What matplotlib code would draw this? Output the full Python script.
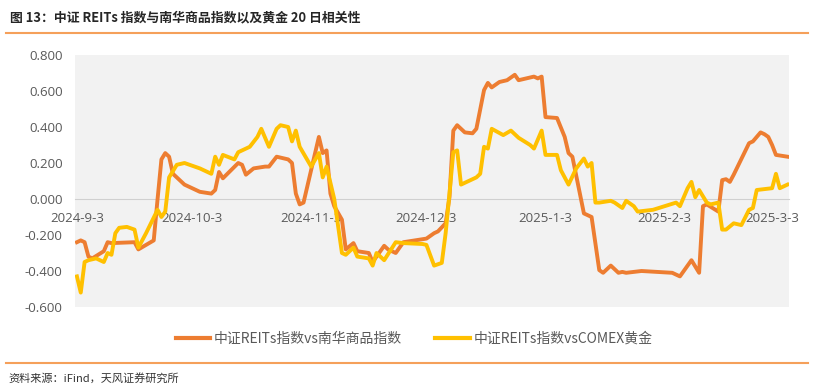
import matplotlib
matplotlib.use("Agg")
import matplotlib.pyplot as plt
import matplotlib.dates as mdates
from matplotlib.lines import Line2D
import pandas as pd

plt.rcParams['font.family'] = ['Open Sans', 'Noto Sans CJK SC', 'DejaVu Sans']
CJK = ['Noto Sans CJK SC', 'DejaVu Sans']

# ---------------- data ----------------
nanhua_dates = [
    "2024-09-03", "2024-09-04", "2024-09-05", "2024-09-06", "2024-09-07", "2024-09-10",
    "2024-09-11", "2024-09-12", "2024-09-18", "2024-09-19", "2024-09-21", "2024-09-23",
    "2024-09-24", "2024-09-25", "2024-09-26", "2024-09-27", "2024-09-28", "2024-10-01",
    "2024-10-05", "2024-10-08", "2024-10-09", "2024-10-10", "2024-10-11", "2024-10-15",
    "2024-10-16", "2024-10-17", "2024-10-19", "2024-10-22", "2024-10-23", "2024-10-25",
    "2024-10-28", "2024-10-29", "2024-10-30", "2024-10-31", "2024-11-01", "2024-11-05",
    "2024-11-06", "2024-11-07", "2024-11-08", "2024-11-09", "2024-11-11", "2024-11-12",
    "2024-11-14", "2024-11-15", "2024-11-18", "2024-11-19", "2024-11-22", "2024-11-23",
    "2024-11-25", "2024-11-27", "2024-11-30", "2024-12-03", "2024-12-05", "2024-12-06",
    "2024-12-08", "2024-12-09", "2024-12-10", "2024-12-11", "2024-12-13", "2024-12-15",
    "2024-12-16", "2024-12-18", "2024-12-19", "2024-12-20", "2024-12-22", "2024-12-24",
    "2024-12-26", "2024-12-27", "2024-12-29", "2024-12-31", "2025-01-01", "2025-01-02",
    "2025-01-03", "2025-01-06", "2025-01-08", "2025-01-09", "2025-01-10", "2025-01-13",
    "2025-01-14", "2025-01-15", "2025-01-17", "2025-01-18", "2025-01-20", "2025-01-22",
    "2025-01-23", "2025-01-24", "2025-01-28", "2025-02-05", "2025-02-07", "2025-02-10",
    "2025-02-11", "2025-02-12", "2025-02-13", "2025-02-14", "2025-02-17", "2025-02-18",
    "2025-02-19", "2025-02-20", "2025-02-21", "2025-02-25", "2025-02-26", "2025-02-28",
    "2025-03-01", "2025-03-02", "2025-03-03", "2025-03-04", "2025-03-07",
]
nanhua_corr = [
    -0.24, -0.23, -0.24, -0.32, -0.33, -0.29,
    -0.24, -0.245, -0.24, -0.28, -0.255, -0.23,
    0.00, 0.22, 0.255, 0.235, 0.14, 0.08,
    0.04, 0.03, 0.05, 0.15, 0.115, 0.20,
    0.19, 0.135, 0.17, 0.18, 0.18, 0.235,
    0.22, 0.20, 0.03, -0.03, -0.02, 0.345,
    0.255, 0.27, 0.03, -0.04, -0.115, -0.28,
    -0.245, -0.29, -0.30, -0.35, -0.26, -0.28,
    -0.30, -0.24, -0.23, -0.22, -0.19, -0.18,
    -0.135, 0.01, 0.38, 0.41, 0.37, 0.365,
    0.39, 0.605, 0.645, 0.62, 0.65, 0.66,
    0.69, 0.66, 0.67, 0.68, 0.67, 0.68,
    0.455, 0.45, 0.345, 0.255, 0.235, -0.08,
    -0.09, -0.10, -0.395, -0.41, -0.37, -0.41,
    -0.405, -0.41, -0.40, -0.41, -0.43, -0.34,
    -0.375, -0.41, -0.04, -0.03, -0.07, 0.105,
    0.11, 0.095, 0.135, 0.31, 0.32, 0.37,
    0.36, 0.345, 0.30, 0.245, 0.235,
]

gold_dates = [
    "2024-09-03", "2024-09-04", "2024-09-05", "2024-09-06", "2024-09-08", "2024-09-10",
    "2024-09-11", "2024-09-12", "2024-09-13", "2024-09-14", "2024-09-16", "2024-09-18",
    "2024-09-19", "2024-09-21", "2024-09-24", "2024-09-25", "2024-09-26", "2024-09-27",
    "2024-09-29", "2024-10-01", "2024-10-05", "2024-10-08", "2024-10-09", "2024-10-10",
    "2024-10-11", "2024-10-14", "2024-10-15", "2024-10-18", "2024-10-20", "2024-10-21",
    "2024-10-23", "2024-10-25", "2024-10-26", "2024-10-28", "2024-10-29", "2024-10-30",
    "2024-10-31", "2024-11-03", "2024-11-05", "2024-11-06", "2024-11-07", "2024-11-09",
    "2024-11-11", "2024-11-12", "2024-11-14", "2024-11-15", "2024-11-18", "2024-11-19",
    "2024-11-20", "2024-11-22", "2024-11-25", "2024-11-27", "2024-12-02", "2024-12-03",
    "2024-12-05", "2024-12-07", "2024-12-08", "2024-12-09", "2024-12-10", "2024-12-11",
    "2024-12-12", "2024-12-16", "2024-12-17", "2024-12-18", "2024-12-19", "2024-12-20",
    "2024-12-23", "2024-12-25", "2024-12-27", "2024-12-30", "2024-12-31", "2025-01-02",
    "2025-01-03", "2025-01-06", "2025-01-07", "2025-01-09", "2025-01-11", "2025-01-13",
    "2025-01-14", "2025-01-15", "2025-01-16", "2025-01-17", "2025-01-20", "2025-01-21",
    "2025-01-23", "2025-01-24", "2025-01-26", "2025-01-27", "2025-01-31", "2025-02-06",
    "2025-02-07", "2025-02-09", "2025-02-10", "2025-02-11", "2025-02-12", "2025-02-14",
    "2025-02-15", "2025-02-17", "2025-02-18", "2025-02-19", "2025-02-21", "2025-02-23",
    "2025-02-25", "2025-02-26", "2025-02-27", "2025-03-03", "2025-03-04", "2025-03-05",
    "2025-03-07",
]
gold_corr = [
    -0.43, -0.52, -0.35, -0.34, -0.33, -0.35,
    -0.30, -0.31, -0.19, -0.16, -0.155, -0.17,
    -0.27, -0.19, -0.06, -0.10, -0.07, 0.12,
    0.19, 0.20, 0.17, 0.14, 0.235, 0.19,
    0.245, 0.22, 0.26, 0.29, 0.345, 0.39,
    0.29, 0.39, 0.41, 0.40, 0.32, 0.38,
    0.29, 0.18, 0.255, 0.12, 0.18, 0.00,
    -0.30, -0.31, -0.27, -0.32, -0.33, -0.37,
    -0.30, -0.34, -0.24, -0.245, -0.25, -0.255,
    -0.37, -0.355, -0.19, 0.03, 0.26, 0.27,
    0.08, 0.12, 0.14, 0.29, 0.28, 0.39,
    0.355, 0.38, 0.34, 0.30, 0.28, 0.38,
    0.245, 0.245, 0.16, 0.08, 0.17, 0.225,
    0.18, 0.20, -0.02, -0.02, -0.01, -0.02,
    -0.05, -0.01, -0.04, -0.07, -0.06, -0.02,
    -0.04, 0.06, 0.095, 0.01, 0.05, -0.02,
    -0.03, -0.02, -0.17, -0.17, -0.135, -0.145,
    -0.06, -0.05, 0.05, 0.06, 0.14, 0.06,
    0.08,
]

tick_dates = ["2024-09-03", "2024-10-03", "2024-11-03", "2024-12-03",
              "2025-01-03", "2025-02-03", "2025-03-03"]
y_ticks = [-0.6, -0.4, -0.2, 0.0, 0.2, 0.4, 0.6, 0.8]

series_names = ["中证REITs指数vs南华商品指数", "中证REITs指数vsCOMEX黄金"]
series_colors = ["#ED7D31", "#FFC000"]

title = "图 13：中证 REITs 指数与南华商品指数以及黄金 20 日相关性"
source = "资料来源：iFind，天风证券研究所"

# ---------------- figure ----------------
fig = plt.figure(figsize=(8.29, 3.85), dpi=100)
ax = fig.add_axes([75 / 829, 78 / 385, 714 / 829, 252 / 385])
ax.set_facecolor("#F2F2F2")

ax.plot(pd.to_datetime(nanhua_dates), nanhua_corr, color=series_colors[0],
        lw=2.8, solid_joinstyle="round", zorder=3)
ax.plot(pd.to_datetime(gold_dates), gold_corr, color=series_colors[1],
        lw=2.8, solid_joinstyle="round", zorder=3)

x0 = mdates.date2num(pd.Timestamp("2024-09-03")) - 0.5
x1 = mdates.date2num(pd.Timestamp("2025-03-07")) + 0.4
ax.set_xlim(x0, x1)
ax.set_ylim(-0.6, 0.8)

ticks = pd.to_datetime(tick_dates)
ax.set_xticks(ticks)
ax.set_xticklabels([f"{t.year}-{t.month}-{t.day}" for t in ticks])
ax.set_yticks(y_ticks)
ax.set_yticklabels([f"{v:.3f}" for v in y_ticks])

for s in ["top", "right", "left"]:
    ax.spines[s].set_visible(False)
ax.spines["bottom"].set_position(("data", 0))
ax.spines["bottom"].set_color("#D0D0D0")
ax.spines["bottom"].set_linewidth(0.8)
ax.spines["bottom"].set_zorder(1)
ax.set_axisbelow(True)

ax.tick_params(axis="both", length=0, labelsize=9.5, labelcolor="#595959")
ax.tick_params(axis="x", pad=9)
ax.tick_params(axis="y", pad=9)

# title, rules, legend, source
fig.text(10 / 829, 1 - 17 / 385, title, family=CJK, fontsize=9.3,
         fontweight="bold", color="#262626", va="center", ha="left")
rule_color = "#F5A05A"
fig.add_artist(Line2D([6 / 829, 808 / 829], [1 - 33 / 385] * 2,
                      color=rule_color, lw=1.5, transform=fig.transFigure))
fig.add_artist(Line2D([6 / 829, 808 / 829], [1 - 363 / 385] * 2,
                      color=rule_color, lw=1.5, transform=fig.transFigure))

handles = [Line2D([], [], color=c, lw=3) for c in series_colors]
fig.legend(handles, series_names, loc="center", ncol=2,
           bbox_to_anchor=(414 / 829, 1 - 339 / 385), frameon=False,
           prop={"family": CJK, "size": 10}, labelcolor="#595959",
           handlelength=2.5, handletextpad=0.25, columnspacing=2.4)

fig.text(8 / 829, 1 - 378 / 385, source, family=CJK, fontsize=8,
         color="#333333", va="center", ha="left")

fig.savefig("out.png", dpi=100)
